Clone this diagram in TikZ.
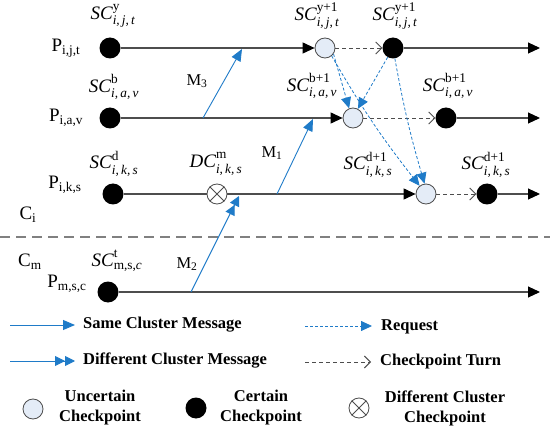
\documentclass[tikz,border=0pt]{standalone}
\usepackage{amsmath}
\usepackage{fontspec}
\setmainfont{Liberation Serif}
\usetikzlibrary{arrows.meta}
\definecolor{msgblue}{HTML}{1F7BC8}
\definecolor{linegray}{HTML}{4D4D4D}
\definecolor{divgray}{HTML}{808080}
\definecolor{uncfill}{HTML}{E4ECF7}
\newcommand\sclab[3]{$\textit{#1}^{\text{#2}\rule[-2.5pt]{0pt}{2.5pt}}_{\textit{#3}}$}
\begin{document}
\begin{tikzpicture}[x=1pt,y=-1pt,
  cert/.style={circle,fill=black,inner sep=0pt,minimum size=21pt},
  unc/.style={circle,draw=linegray,fill=uncfill,line width=0.8pt,inner sep=0pt,minimum size=20pt},
  dcc/.style={circle,draw=linegray,fill=white,line width=0.8pt,inner sep=0pt,minimum size=20pt},
  lbl/.style={inner sep=0pt,font=\fontsize{19}{22}\selectfont},
  mlbl/.style={inner sep=0pt,font=\fontsize{16.5}{19}\selectfont},
  leg/.style={inner sep=0pt,font=\bfseries\fontsize{16.5}{20}\selectfont,align=center},
  pline/.style={draw=linegray,line width=1.1pt},
  ptip/.style={-{Triangle[length=12pt,width=11pt,color=black]}},
  turn/.style={draw=linegray,line width=0.9pt,dashed,dash pattern=on 4pt off 3pt,-{Straight Barb[length=6pt,width=12pt]}},
  msg/.style={draw=msgblue,line width=0.9pt,-{Triangle[length=12pt,width=10pt]}},
  dmsg/.style={draw=msgblue,line width=0.9pt,-{Triangle[length=10pt,width=10pt]Triangle[length=10pt,width=10pt]}},
  req/.style={draw=msgblue,line width=0.8pt,dash pattern=on 3pt off 2pt,-{Triangle[length=11pt,width=10pt]}},
  divider/.style={draw=divgray,line width=1.6pt,dash pattern=on 10pt off 6pt}
]
\useasboundingbox (0,0) rectangle (550,436);

% divider
\coordinate (dvL) at (0,237);
\coordinate (dvR) at (550,237);
\draw[divider] (dvL) -- (dvR);

% row 1
\node[cert] (c1) at (110,48) {};
\node[unc] (u1) at (325,48) {};
\node[cert] (c1b) at (393,48) {};
\coordinate (e1) at (540,48);
% row 2
\node[cert] (c2) at (110,118) {};
\node[unc] (u2) at (353,118) {};
\node[cert] (c2b) at (446,118) {};
\coordinate (e2) at (540,118);
% row 3
\node[cert] (c3) at (113,194) {};
\node[dcc] (d3) at (217,194) {};
\node[unc] (u3) at (426,194) {};
\node[cert] (c3b) at (487,194) {};
\coordinate (e3) at (540,194);
% row 4
\node[cert] (c4) at (108,292) {};
\coordinate (e4) at (540,292);

% process lines
\draw[pline,ptip] (c1) -- (u1);
\draw[turn] (u1) -- (c1b);
\draw[pline,ptip] (c1b) -- (e1);
\draw[pline,ptip] (c2) -- (u2);
\draw[turn] (u2) -- (c2b);
\draw[pline,ptip] (c2b) -- (e2);
\draw[pline] (c3) -- (d3);
\draw[pline,ptip] (d3) -- (u3);
\draw[turn] (u3) -- (c3b);
\draw[pline,ptip] (c3b) -- (e3);
\draw[pline,ptip] (c4) -- (e4);
\draw[linegray,line width=0.8pt] (d3.45) -- (d3.225) (d3.135) -- (d3.-45);

% messages
\coordinate (m3s) at (203,118);
\coordinate (m3e) at (242,49);
\draw[msg] (m3s) -- (m3e);
\coordinate (m1s) at (277,194);
\coordinate (m1e) at (313,119);
\draw[msg] (m1s) -- (m1e);
\coordinate (m2s) at (191,292);
\coordinate (m2e) at (239,196);
\draw[dmsg] (m2s) -- (m2e);

% requests
\draw[req] (u1.-35) -- (u2.112);
\draw[req] (c1b.-120) -- (u2.62);
\draw[req] (u1.-50) to[bend right=4] (u3.128);
\draw[req] (c1b.-80) to[bend right=3] (u3.98);

% labels
\node[lbl] (tP1) at (66,48) {P\textsubscript{i,j,t}};
\node[lbl] (tP2) at (66,118) {P\textsubscript{i,a,v}};
\node[lbl] (tP3) at (65,185) {P\textsubscript{i,k,s}};
\node[lbl] (tP4) at (67,284) {P\textsubscript{m,s,c}};
\node[lbl] (tCi) at (28,215) {C\textsubscript{i}};
\node[lbl] (tCm) at (30,262) {C\textsubscript{m}};

\node[lbl] (s1) at (113,16) {\sclab{SC}{y}{i,\,j,\,t}};
\node[lbl] (s2) at (114,87) {\sclab{SC}{b}{i,\,a,\,v}};
\node[lbl] (s3) at (114,164) {\sclab{SC}{d}{i,\,k,\,s}};
\node[lbl] (s4) at (216,164) {\sclab{DC}{m}{i,\,k,\,s}};
\node[lbl] (s5) at (117,261) {\sclab{SC}{t}{\textup{m,s,}c}};
\node[lbl] (s6) at (317,16) {\sclab{SC}{y+1}{i,\,j,\,t}};
\node[lbl] (s7) at (395,16) {\sclab{SC}{y+1}{i,\,j,\,t}};
\node[lbl] (s8) at (312,86) {\sclab{SC}{b+1}{i,\,a,\,v}};
\node[lbl] (s9) at (448,86) {\sclab{SC}{b+1}{i,\,a,\,v}};
\node[lbl] (s10) at (368,165) {\sclab{SC}{d+1}{i,\,k,\,s}};
\node[lbl] (s11) at (486,165) {\sclab{SC}{d+1}{i,\,k,\,s}};

\node[mlbl] (tM3) at (197,81) {M\textsubscript{3}};
\node[mlbl] (tM1) at (272,153) {M\textsubscript{1}};
\node[mlbl] (tM2) at (187,264) {M\textsubscript{2}};

% legend
\coordinate (la1) at (10,325); \coordinate (la2) at (75,325);
\draw[msg] (la1) -- (la2);
\node[leg,anchor=west] (lt1) at (83,325) {Same Cluster Message};
\coordinate (lb1) at (10,361); \coordinate (lb2) at (75,361);
\draw[dmsg] (lb1) -- (lb2);
\node[leg,anchor=west] (lt2) at (83,361) {Different Cluster Message};
\coordinate (lc1) at (305,326); \coordinate (lc2) at (372,326);
\draw[req] (lc1) -- (lc2);
\node[leg,anchor=west] (lt3) at (381,327) {Request};
\coordinate (ld1) at (305,362); \coordinate (ld2) at (371,362);
\draw[turn] (ld1) -- (ld2);
\node[leg,anchor=west] (lt4) at (380,362) {Checkpoint Turn};

\node[unc] (lu) at (33,409) {};
\node[leg] (lt5) at (100,408) {Uncertain\\Checkpoint};
\node[cert] (lcc) at (196,408) {};
\node[leg] (lt6) at (261,408) {Certain\\Checkpoint};
\node[dcc] (ld) at (359,408) {};
\draw[linegray,line width=0.8pt] (ld.45) -- (ld.225) (ld.135) -- (ld.-45);
\node[leg] (lt7) at (445,408) {Different Cluster\\Checkpoint};
\end{tikzpicture}
\end{document}
